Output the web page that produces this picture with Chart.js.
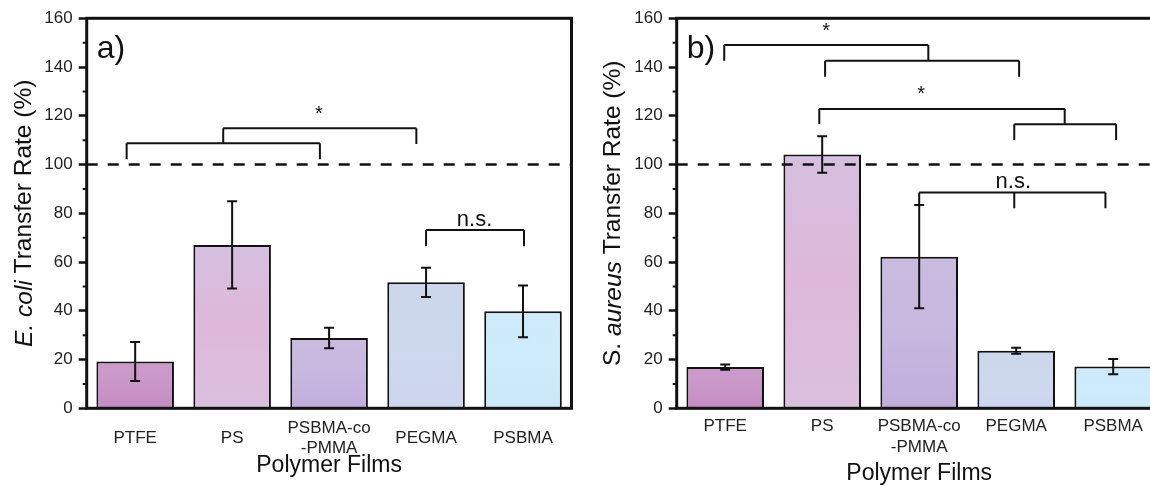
<!DOCTYPE html>
<html>
<head>
<meta charset="utf-8">
<script src="https://cdn.jsdelivr.net/npm/chart.js@4.4.1/dist/chart.umd.min.js"></script>
<style>
  html, body { margin: 0; padding: 0; background: #fff; }
  #wrap { position: relative; width: 1150px; height: 486px; overflow: hidden; }
  #left { position: absolute; left: 0; top: 0; width: 580px; height: 486px; }
  #right { position: absolute; left: 580px; top: 0; width: 600px; height: 486px; }
</style>
</head>
<body>
<div id="wrap">
  <div id="left"><canvas id="ecoliChart"></canvas></div>
  <div id="right"><canvas id="aureusChart"></canvas></div>
</div>
<script>
// categories
const films = ["PTFE", "PS", ["PSBMA-co", "-PMMA"], "PEGMA", "PSBMA"];
const filmsTopAligned = [["PTFE", ""], ["PS", ""], ["PSBMA-co", "-PMMA"], ["PEGMA", ""], ["PSBMA", ""]];

// a) E. coli transfer rate (%)
const ecoliMean = [19.2, 67.0, 28.8, 51.7, 39.8];
const ecoliErr  = [8.0, 17.9, 4.2, 6.0, 10.6];

// b) S. aureus transfer rate (%)
const aureusMean = [16.9, 104.1, 62.2, 23.6, 17.1];
const aureusErr  = [1.1, 7.5, 21.2, 1.2, 3.1];

const yMin = 0, yMax = 160, yStep = 20;
const refLine = 100;

// significance brackets (x in category index, y in %)
const ecoliBrackets = [
  { xs: [-0.088, 1.905], top: 108.7, ends: [102.2, 102.2] },
  { xs: [0.908, 2.9], top: 114.9, ends: [108.7, 108.4] },
  { xs: [3.0, 4.01], top: 73.2, ends: [66.5, 66.5] }
];
const ecoliMarks = [
  { text: "*", x: 1.895, y: 122.4 },
  { text: "n.s.", x: 3.5, y: 77.1 }
];
const aureusBrackets = [
  { xs: [-0.01, 2.094], top: 149.0, ends: [142.6, 142.6] },
  { xs: [1.03, 3.03], top: 142.6, ends: [136.0, 136.0] },
  { xs: [0.97, 3.5], top: 122.8, ends: [116.6, 116.5] },
  { xs: [2.98, 4.03], top: 116.5, ends: [110.1, 110.1] },
  { xs: [2.0, 2.98, 3.92], top: 88.5, ends: [83.4, 82.1, 82.1] }
];
const aureusMarks = [
  { text: "*", x: 1.04, y: 156.3 },
  { text: "*", x: 2.02, y: 130.6 },
  { text: "n.s.", x: 2.97, y: 92.7 }
];

// bar colours bottom -> middle -> top
const barShades = [
  ["#c58cc3", "#c996c8", "#cc9bcb"],
  ["#dbc0df", "#ddb8da", "#d6bfe0"],
  ["#c0addc", "#c6b8df", "#cabcde"],
  ["#cfd5f0", "#ccd9ec", "#cbd6ea"],
  ["#cbe8f8", "#cdebfa", "#cfeafb"]
];

const FONT = '"Liberation Sans", Arial, sans-serif';
const INK = "#111";

function barFill(c) {
  const chart = c.chart;
  const shades = barShades[c.dataIndex];
  if (!chart.chartArea || c.raw === undefined) return shades[1];
  const y = chart.scales.y;
  const g = chart.ctx.createLinearGradient(0, y.getPixelForValue(0), 0, y.getPixelForValue(c.raw));
  g.addColorStop(0, shades[0]);
  g.addColorStop(0.5, shades[1]);
  g.addColorStop(1, shades[2]);
  return g;
}

function makeDecor(cfg) {
  return {
    id: "decor",
    afterDatasetsDraw(chart) {
      const { ctx, chartArea: a, scales: { x, y } } = chart;
      ctx.save();

      // error bars
      const meta = chart.getDatasetMeta(0);
      ctx.strokeStyle = INK;
      ctx.lineWidth = 2;
      meta.data.forEach((bar, i) => {
        const m = chart.data.datasets[0].data[i];
        const e = cfg.errors[i];
        const t = y.getPixelForValue(m + e), b = y.getPixelForValue(m - e);
        ctx.beginPath();
        ctx.moveTo(bar.x, t); ctx.lineTo(bar.x, b);
        ctx.moveTo(bar.x - 5, t); ctx.lineTo(bar.x + 5, t);
        ctx.moveTo(bar.x - 5, b); ctx.lineTo(bar.x + 5, b);
        ctx.stroke();
      });

      // reference line
      ctx.save();
      ctx.setLineDash([11, 10]);
      ctx.lineWidth = 2.5;
      const ry = y.getPixelForValue(refLine);
      ctx.beginPath();
      ctx.moveTo(a.left, ry); ctx.lineTo(a.right, ry);
      ctx.stroke();
      ctx.restore();

      // brackets
      ctx.lineWidth = 2;
      cfg.brackets.forEach(br => {
        const ty = y.getPixelForValue(br.top);
        const px = br.xs.map(v => x.getPixelForValue(v));
        ctx.beginPath();
        ctx.moveTo(Math.min(...px), ty); ctx.lineTo(Math.max(...px), ty);
        px.forEach((p, k) => {
          ctx.moveTo(p, ty); ctx.lineTo(p, y.getPixelForValue(br.ends[k]));
        });
        ctx.stroke();
      });

      // significance text
      ctx.fillStyle = INK;
      ctx.textAlign = "center";
      ctx.textBaseline = "alphabetic";
      cfg.marks.forEach(mk => {
        ctx.font = (mk.text === "*" ? "20px " : "22px ") + FONT;
        const mt = ctx.measureText(mk.text);
        const off = (mt.actualBoundingBoxAscent - mt.actualBoundingBoxDescent) / 2;
        ctx.fillText(mk.text, x.getPixelForValue(mk.x), y.getPixelForValue(mk.y) + off);
      });

      // minor ticks
      ctx.lineWidth = 2;
      ctx.beginPath();
      for (let v = yMin + yStep / 2; v < yMax; v += yStep) {
        const p = y.getPixelForValue(v);
        ctx.moveTo(a.left - 4, p); ctx.lineTo(a.left, p);
      }
      ctx.stroke();

      // frame
      ctx.lineWidth = 3;
      ctx.strokeRect(a.left, a.top, a.right - a.left, a.bottom - a.top);

      // panel letter
      ctx.textAlign = "left";
      ctx.font = "32px " + FONT;
      ctx.fillText(cfg.letter, a.left + 10, a.top + 40);

      // x title
      ctx.textAlign = "center";
      ctx.textBaseline = "middle";
      ctx.font = "23px " + FONT;
      ctx.fillText("Polymer Films", (a.left + a.right) / 2, cfg.xTitleY);

      // y title with italic species name
      ctx.save();
      ctx.translate(a.left - cfg.yTitleOffset, (a.top + a.bottom) / 2);
      ctx.rotate(-Math.PI / 2);
      let total = 0;
      cfg.yTitle.forEach(p => {
        ctx.font = (p.italic ? "italic " : "") + "24.5px " + FONT;
        p.w = ctx.measureText(p.text).width;
        total += p.w;
      });
      let tx = -total / 2;
      ctx.textAlign = "left";
      cfg.yTitle.forEach(p => {
        ctx.font = (p.italic ? "italic " : "") + "24.5px " + FONT;
        ctx.fillText(p.text, tx, 0);
        tx += p.w;
      });
      ctx.restore();

      ctx.restore();
    }
  };
}

function makeChart(id, labels, means, cfg) {
  return new Chart(document.getElementById(id), {
    type: "bar",
    data: {
      labels: labels,
      datasets: [{
        data: means,
        backgroundColor: barFill,
        borderColor: INK,
        borderWidth: 2,
        borderSkipped: "start",
        categoryPercentage: 1,
        barPercentage: 0.8
      }]
    },
    options: {
      responsive: true,
      maintainAspectRatio: false,
      animation: false,
      layout: { padding: { top: 18.3, right: cfg.padRight, left: 0, bottom: 0 } },
      plugins: { legend: { display: false }, tooltip: { enabled: false } },
      scales: {
        x: {
          grid: { display: false, drawTicks: false },
          border: { display: false },
          ticks: {
            font: { family: FONT, size: 17, lineHeight: 1.2 },
            color: "#222",
            padding: cfg.xPad,
            crossAlign: cfg.crossAlign,
            maxRotation: 0,
            autoSkip: false
          },
          afterFit: s => { s.height = 77.7; }
        },
        y: {
          min: yMin,
          max: yMax,
          border: { display: false },
          grid: { drawOnChartArea: false, tickLength: 8, tickWidth: 2.5, tickColor: INK },
          ticks: { stepSize: yStep, font: { family: FONT, size: 17 }, color: "#222", padding: 6 },
          afterFit: s => { s.width = cfg.yWidth; }
        }
      }
    },
    plugins: [makeDecor(cfg)]
  });
}

makeChart("ecoliChart", films, ecoliMean, {
  errors: ecoliErr,
  brackets: ecoliBrackets,
  marks: ecoliMarks,
  letter: "a)",
  yTitle: [{ text: "E. coli", italic: true }, { text: " Transfer Rate (%)" }],
  yTitleOffset: 62,
  xTitleY: 466,
  padRight: 8.5,
  yWidth: 86.7,
  xPad: 20,
  crossAlign: "center"
});

makeChart("aureusChart", filmsTopAligned, aureusMean, {
  errors: aureusErr,
  brackets: aureusBrackets,
  marks: aureusMarks,
  letter: "b)",
  yTitle: [{ text: "S. " }, { text: "aureus", italic: true }, { text: " Transfer Rate (%)" }],
  yTitleOffset: 63,
  xTitleY: 474,
  padRight: 18.3,
  yWidth: 96.7,
  xPad: 8,
  crossAlign: "near"
});
</script>
</body>
</html>
